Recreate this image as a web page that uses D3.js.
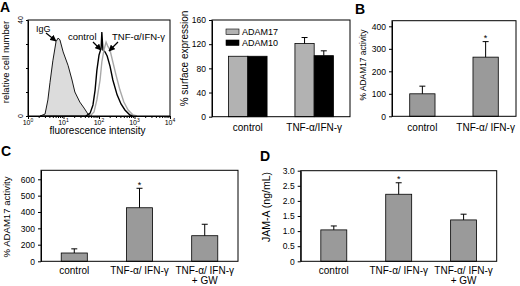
<!DOCTYPE html>
<html>
<head>
<meta charset="utf-8">
<script src="https://cdn.jsdelivr.net/npm/d3@7"></script>
<style>
  body { margin: 0; background: #fff; }
  svg { display: block; font-family: 'Liberation Sans', Arial, sans-serif; }
  .tick text { font-family: 'Liberation Sans Narrow', 'Liberation Sans', Arial, sans-serif; font-size: 8.5px; fill: #000; }
  .tick line, .domain { stroke: #000; }
</style>
</head>
<body>
<svg id="fig" width="520" height="286"></svg>
<script>
// panel A histogram: [log10 fluorescence, relative cell number]
const igg = [[0.34, 0], [0.48, 0.8], [0.56, 6.7], [0.62, 14], [0.7, 23], [0.79, 31], [0.85, 32.5], [0.9, 31.7],
  [0.99, 26.7], [1.13, 21], [1.24, 15], [1.32, 10], [1.46, 5.8], [1.58, 3.3], [1.69, 0.8], [1.8, 0]]
const control = [[1.63, 0], [1.75, 1.2], [1.83, 4.6], [1.89, 10.8], [1.94, 19], [2.0, 25.4], [2.06, 28.3], [2.08, 35],
  [2.11, 27.5], [2.17, 26.7], [2.23, 25], [2.31, 20.8], [2.39, 15], [2.51, 8.8], [2.62, 5], [2.73, 2.5], [2.87, 0.4], [2.99, 0]]
const tnf = [[1.75, 0], [1.86, 1.7], [1.94, 6.7], [2.03, 15], [2.08, 22.5], [2.14, 27.5], [2.2, 30.8], [2.25, 29],
  [2.31, 27.5], [2.39, 22.5], [2.48, 17], [2.59, 10.8], [2.7, 5.8], [2.82, 2.5], [2.96, 0.4], [3.07, 0]]
const histTicks = [0, 1, 2, 3, 4]

// panel A bars
const surfCats = ['control', 'TNF-α/IFN-γ']
const surfSeries = ['ADAM17', 'ADAM10']
const adam17 = [100, 121]
const adam17Err = [0, 10]
const adam10 = [100, 101]
const adam10Err = [0, 8]
const surfTicks = [0, 40, 80, 120, 160]

// panel B
const catsB = [['control'], ['TNF-α/ IFN-γ']]
const activityB = [100, 263]
const errB = [34, 69]
const starB = [false, true]
const ticksB = [0, 100, 200, 300, 400]

// panels C and D
const catsCD = [['control'], ['TNF-α/ IFN-γ'], ['TNF-α/ IFN-γ', '+ GW']]
const activityC = [100, 426, 255]
const errC = [50, 119, 70]
const starC = [false, true, false]
const ticksC = [0, 200, 300, 400, 500, 600]
const jamA = [1.04, 2.22, 1.37]
const errD = [0.13, 0.38, 0.19]
const starD = [false, true, false]
const ticksD = [0, 0.5, 1, 1.5, 2, 2.5, 3]

const svg = d3.select('#fig')

const letter = (t, x, y) => svg.append('text').attr('x', x).attr('y', y)
  .attr('font-size', 14).attr('font-weight', 'bold').text(t)

const yLabel = (t, x, y, size) => svg.append('text')
  .attr('transform', 'translate(' + x + ',' + y + ') rotate(-90)')
  .attr('text-anchor', 'middle').attr('dy', '0.35em').attr('font-size', size).text(t)

const frame = (l, r, t, b) => svg.append('rect')
  .attr('x', l).attr('y', t).attr('width', r - l).attr('height', b - t)
  .attr('fill', 'none').attr('stroke', '#000').attr('stroke-width', 1)

const errorBar = (g, cx, y0, y1) => {
  g.append('line').attr('x1', cx).attr('x2', cx).attr('y1', y0).attr('y2', y1).attr('stroke', '#000')
  g.append('line').attr('x1', cx - 3).attr('x2', cx + 3).attr('y1', y1).attr('y2', y1).attr('stroke', '#000')
}

const catLabels = (cats, x, y0) => {
  cats.forEach((lines, i) => {
    const t = svg.append('text').attr('text-anchor', 'middle').attr('font-size', 10)
    lines.forEach((ln, j) => {
      t.append('tspan').attr('x', x(i) + x.bandwidth() / 2).attr('y', y0 + j * 10.5).text(ln)
    })
  })
}

// ---------- A: histogram ----------
letter('A', 0, 12)
const hx = d3.scaleLinear().domain([0, 4]).range([28, 170])
const hy = d3.scaleLinear().domain([0, 40]).range([116, 20])

const area = d3.area().x(d => hx(d[0])).y0(hy(0)).y1(d => hy(d[1]))
const line = d3.line().x(d => hx(d[0])).y(d => hy(d[1]))

svg.append('path').datum(igg).attr('d', area).attr('fill', '#dcdcdc').attr('stroke', '#000').attr('stroke-width', 0.9)
svg.append('path').datum(control).attr('d', line).attr('fill', 'none').attr('stroke', '#000').attr('stroke-width', 1.4)
svg.append('path').datum(tnf).attr('d', line).attr('fill', 'none').attr('stroke', '#a8a8a8').attr('stroke-width', 1.4)
frame(28, 170, 20, 116)

const minor = []
histTicks.slice(0, -1).forEach(d => { for (let k = 2; k < 10; k++) minor.push(d + Math.log10(k)) })
svg.append('g').attr('transform', 'translate(0,116)')
  .call(d3.axisBottom(hx).tickValues(minor).tickSize(2).tickSizeOuter(0).tickFormat(''))
svg.append('g').attr('transform', 'translate(0,116)')
  .call(d3.axisBottom(hx).tickValues(histTicks).tickSize(3).tickSizeOuter(0).tickFormat(''))
svg.append('g').attr('transform', 'translate(28,0)')
  .call(d3.axisLeft(hy).tickValues([0, 10, 20, 30, 40]).tickSize(2).tickSizeOuter(0).tickFormat(''))

histTicks.forEach(d => {
  const t = svg.append('text').attr('x', hx(d)).attr('y', 125).attr('text-anchor', 'middle').attr('font-size', 7)
  t.append('tspan').text('10')
  t.append('tspan').attr('dy', -3).attr('font-size', 5).text(d)
})
;[0, 40].forEach(d => {
  svg.append('text').attr('transform', 'translate(23,' + hy(d) + ') rotate(-90)')
    .attr('text-anchor', 'middle').attr('font-size', 7).text(d)
})
yLabel('relative cell number', 6, 62, 9.5)
svg.append('text').attr('x', 97.5).attr('y', 134).attr('text-anchor', 'middle').attr('font-size', 10).text('fluorescence intensity')

const defs = svg.append('defs')
defs.append('marker').attr('id', 'ah').attr('viewBox', '0 0 10 10').attr('refX', 9).attr('refY', 5)
  .attr('markerWidth', 5).attr('markerHeight', 5).attr('orient', 'auto')
  .append('path').attr('d', 'M0,0L10,5L0,10Z').attr('fill', '#000')

const arrow = (x1, y1, x2, y2) => svg.append('line').attr('x1', x1).attr('y1', y1).attr('x2', x2).attr('y2', y2)
  .attr('stroke', '#000').attr('stroke-width', 1.3).attr('marker-end', 'url(#ah)')

svg.append('text').attr('x', 36).attr('y', 32).attr('font-size', 9).text('IgG')
svg.append('text').attr('x', 68).attr('y', 40).attr('font-size', 9.5).text('control')
svg.append('text').attr('x', 112).attr('y', 40).attr('font-size', 9.5).text('TNF-α/IFN-γ')
arrow(46, 33, 56, 41)
arrow(93, 42, 101, 50)
arrow(118, 42, 109, 51)

// ---------- A: surface expression bars ----------
const sx = d3.scaleBand().domain(d3.range(surfCats.length)).range([212, 350]).paddingInner(0.42).paddingOuter(0.25)
const sx1 = d3.scaleBand().domain(surfSeries).range([0, sx.bandwidth()])
const sy = d3.scaleLinear().domain([0, 160]).range([116.7, 20])
const surfColor = d3.scaleOrdinal().domain(surfSeries).range(['#b2b2b2', '#000'])
const surfVals = { ADAM17: [adam17, adam17Err], ADAM10: [adam10, adam10Err] }

const gs = svg.append('g')
surfCats.forEach((c, i) => {
  surfSeries.forEach(s => {
    const v = surfVals[s][0][i]
    const e = surfVals[s][1][i]
    const bx = sx(i) + sx1(s)
    gs.append('rect').attr('x', bx).attr('y', sy(v)).attr('width', sx1.bandwidth()).attr('height', sy(0) - sy(v))
      .attr('fill', surfColor(s)).attr('stroke', '#000').attr('stroke-width', 0.8)
    if (e > 0) errorBar(gs, bx + sx1.bandwidth() / 2, sy(v), sy(v + e))
  })
})
frame(212, 350, 20, 116.7)
svg.append('g').attr('transform', 'translate(212,0)')
  .call(d3.axisLeft(sy).tickValues(surfTicks).tickSize(3).tickSizeOuter(0))
surfSeries.forEach((s, i) => {
  svg.append('rect').attr('x', 226).attr('y', 29 + i * 11).attr('width', 13).attr('height', 5.5)
    .attr('fill', surfColor(s)).attr('stroke', '#000').attr('stroke-width', 0.6)
  svg.append('text').attr('x', 242).attr('y', 35 + i * 11)
    .attr('font-family', "'Liberation Sans Narrow', 'Liberation Sans', Arial, sans-serif").attr('font-size', 9).text(s)
})
catLabels(surfCats.map(d => [d]), sx, 131)
yLabel('% surface expression', 184, 58.5, 10)

// ---------- generic single-series bar panel ----------
const barPanel = (o) => {
  const x = d3.scaleBand().domain(d3.range(o.cats.length)).range([o.left, o.right])
    .paddingInner(0.6).paddingOuter(o.padOuter)
  const g = svg.append('g')
  o.values.forEach((v, i) => {
    const bx = x(i)
    g.append('rect').attr('x', bx).attr('y', o.y(v)).attr('width', x.bandwidth()).attr('height', o.y(0) - o.y(v))
      .attr('fill', '#9a9a9a').attr('stroke', '#000').attr('stroke-width', 0.8)
    const cx = bx + x.bandwidth() / 2
    errorBar(g, cx, o.y(v), o.y(v + o.errs[i]))
    if (o.stars[i]) {
      g.append('text').attr('x', cx).attr('y', o.y(v + o.errs[i]) - 0.5).attr('text-anchor', 'middle')
        .attr('font-size', 9).text('*')
    }
  })
  frame(o.left, o.right, o.top, o.y(0))
  svg.append('g').attr('transform', 'translate(' + o.left + ',0)')
    .call(d3.axisLeft(o.y).tickValues(o.ticks).tickSize(3).tickSizeOuter(0).tickFormat(o.fmt))
  catLabels(o.cats, x, o.labelY)
}

// ---------- B ----------
letter('B', 355, 14)
barPanel({
  left: 392, right: 516, top: 20.7, cats: catsB, values: activityB, errs: errB, stars: starB,
  y: d3.scaleLinear().domain([0, 425]).range([116.3, 20.7]), ticks: ticksB, fmt: d3.format('d'),
  padOuter: 0.28, labelY: 131
})
yLabel('% ADAM17 activity', 362.7, 65, 8.4)

// ---------- C ----------
letter('C', 1, 156)
barPanel({
  left: 41, right: 238, top: 170.3, cats: catsCD, values: activityC, errs: errC, stars: starC,
  y: d3.scaleLinear().domain([0, 200, 655]).range([261.3, 244.7, 170.3]), ticks: ticksC, fmt: d3.format('d'),
  padOuter: 0.31, labelY: 273.5
})
yLabel('% ADAM17 activity', 6.5, 217, 9.6)

// ---------- D ----------
letter('D', 260, 161)
barPanel({
  left: 300.7, right: 496.7, top: 170.7, cats: catsCD, values: jamA, errs: errD, stars: starD,
  y: d3.scaleLinear().domain([0, 3]).range([261.3, 170.7]), ticks: ticksD,
  fmt: d => d === 0 ? '0' : d3.format('.1f')(d),
  padOuter: 0.31, labelY: 273.5
})
yLabel('JAM-A (ng/mL)', 266.7, 207, 10.5)
</script>
</body>
</html>
